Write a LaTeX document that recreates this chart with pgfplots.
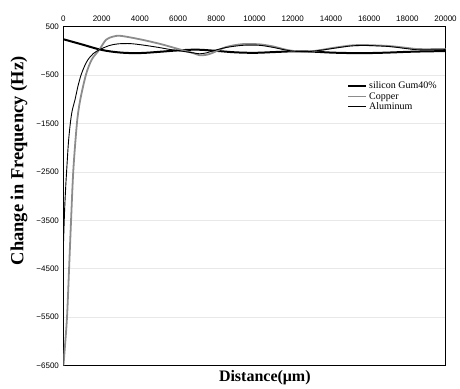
\documentclass[border=0pt]{standalone}
\usepackage{fontspec}
\setmainfont{Liberation Serif}
\setsansfont{Liberation Sans}
\usepackage{pgfplots}
\pgfplotsset{compat=1.18}
\definecolor{cugray}{RGB}{140,140,140}
\begin{document}
\begin{tikzpicture}
\begin{axis}[
  scale only axis,
  width=382.5pt, height=339.3pt,
  xmin=0, xmax=20000, ymin=-6500, ymax=500,
  scaled x ticks=false, scaled y ticks=false,
  xtick={0,2000,...,20000},
  xticklabels={0,2000,4000,6000,8000,10000,12000,14000,16000,18000,20000},
  ytick={-6500,-5500,-4500,-3500,-2500,-1500,-500,500},
  yticklabels={−6500,−5500,−4500,−3500,−2500,−1500,−500,500},
  xticklabel pos=upper,
  major tick length=0pt,
  tick label style={font=\sffamily\fontsize{8}{9}\selectfont},
  xticklabel style={yshift=2pt},
  yticklabel style={xshift=-1pt},
  ymajorgrids, grid style={gray!18, line width=0.6pt},
  axis line style={black, line width=0.8pt},
  xlabel={\textbf{Distance(μm)}},
  xlabel style={at={(axis description cs:0.527,0)}, anchor=center, yshift=-12pt, font=\fontsize{16}{18}\selectfont},
  ylabel={\textbf{Change in Frequency (Hz)}},
  ylabel style={at={(axis description cs:-0.1163,0.604)}, anchor=center, rotate=0, font=\fontsize{18.5}{20}\selectfont},
  legend style={at={(axis description cs:0.985,0.846)}, anchor=north east, draw=none, fill=none,
    font=\fontsize{10}{12}\selectfont, row sep=-2pt, inner sep=1pt},
  legend cell align=left,
  legend image code/.code={\draw[#1] (0pt,0pt) -- (18pt,0pt);},
]
\addplot[black, line width=2pt, smooth, tension=0.6] coordinates {
(0,240) (1000,130) (2000,20) (3000,-35) (4000,-45) (5000,-20) (6000,10) (7000,25)
(8000,0) (9000,-30) (10000,-40) (11000,-25) (12000,-10) (13000,-15) (14000,-35)
(15000,-45) (16000,-45) (17000,-35) (18000,-20) (19000,-10) (20000,-5)};
\addlegendentry{silicon Gum40\%}
\addplot[cugray, line width=1.8pt, smooth, tension=0.5] coordinates {
(0,-6500) (60,-6200) (190,-5480) (300,-4450) (400,-3490) (520,-2450) (710,-1480)
(880,-1010) (1180,-490) (1480,-180) (1880,25) (2230,230) (2600,295) (3000,310)
(4000,240) (5000,150) (5560,90) (6000,40) (6780,-45) (7130,-90) (7500,-80) (7810,-40)
(8520,80) (9390,140) (10260,135) (11000,90) (11480,40) (12000,0) (12780,-15)
(13500,20) (14090,60) (15000,110) (15480,120) (16000,118) (17050,100) (18000,60)
(18440,40) (19000,35) (20000,40)};
\addlegendentry{Copper}
\addplot[black, line width=0.9pt, smooth, tension=0.5] coordinates {
(0,-4000) (60,-3300) (120,-2800) (180,-2400) (260,-1900) (350,-1530) (450,-1250)
(610,-1000) (760,-730) (920,-500) (1100,-320) (1270,-190) (1550,-60)
(1890,25) (2400,110) (2860,145) (3500,150) (4170,120) (5000,70) (5560,30) (6000,5)
(6780,-40) (7130,-60) (7500,-40) (7810,0) (8520,70) (9390,115) (10260,115) (11000,70)
(11480,30) (12000,-5) (12780,-15) (13500,15) (14090,50) (15000,100) (15480,110)
(16000,110) (17050,90) (18000,45) (18440,25) (19000,20) (20000,25)};
\addlegendentry{Aluminum}
\end{axis}
\path ([shift={(-63.5pt,-20pt)}]current axis.south west) rectangle ([shift={(14pt,26.7pt)}]current axis.north east);
\end{tikzpicture}
\end{document}
